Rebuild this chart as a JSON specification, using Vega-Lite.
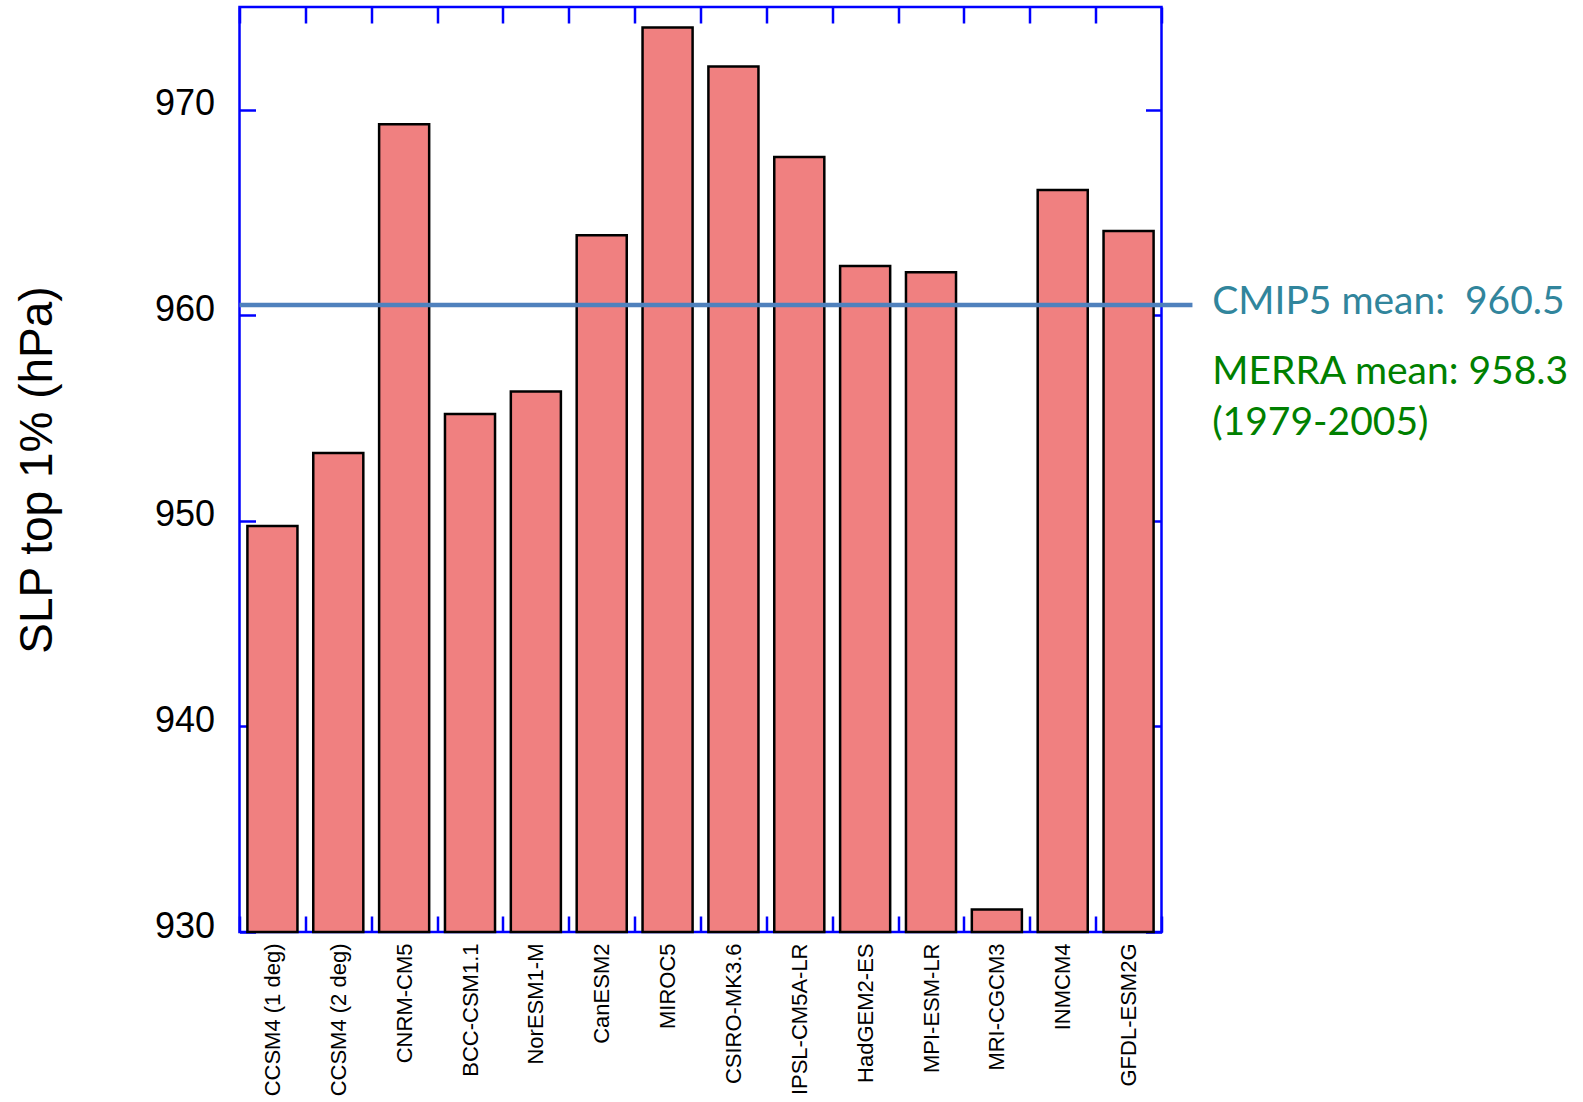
{
  "$schema": "https://vega.github.io/schema/vega-lite/v6.json",
  "autosize": "none",
  "width": 922,
  "height": 925,
  "padding": {"left": 239.5, "top": 7, "right": 421.5, "bottom": 170},
  "background": "white",
  "config": {
    "view": {"stroke": "#0000FF", "strokeWidth": 2.5},
    "font": "Liberation Sans"
  },
  "datasets": {
    "models": [
      {"model": "CCSM4 (1 deg)", "slp": 949.75},
      {"model": "CCSM4 (2 deg)", "slp": 953.3},
      {"model": "CNRM-CM5", "slp": 969.3},
      {"model": "BCC-CSM1.1", "slp": 955.2},
      {"model": "NorESM1-M", "slp": 956.3},
      {"model": "CanESM2", "slp": 963.9},
      {"model": "MIROC5", "slp": 974.0},
      {"model": "CSIRO-MK3.6", "slp": 972.1},
      {"model": "IPSL-CM5A-LR", "slp": 967.7},
      {"model": "HadGEM2-ES", "slp": 962.4},
      {"model": "MPI-ESM-LR", "slp": 962.1},
      {"model": "MRI-CGCM3", "slp": 931.1},
      {"model": "INMCM4", "slp": 966.1},
      {"model": "GFDL-ESM2G", "slp": 964.1}
    ],
    "means": [
      {"source": "CMIP5", "label": "CMIP5 mean: \u00a0960.5", "mean": 960.5},
      {"source": "MERRA", "label": "MERRA mean: 958.3", "mean": 958.3}
    ]
  },
  "resolve": {
    "scale": {"x": "independent", "y": "independent"},
    "axis": {"x": "independent", "y": "independent"}
  },
  "layer": [
    {
      "data": {"name": "models"},
      "mark": {"type": "bar", "fill": "#F08080", "stroke": "black", "strokeWidth": 2.5, "width": {"band": 0.76}},
      "encoding": {
        "x": {
          "field": "model", "type": "nominal", "sort": null,
          "scale": {"paddingInner": 0, "paddingOuter": 0},
          "axis": {
            "orient": "bottom", "title": null, "labelAngle": -90,
            "labelFont": "Liberation Sans", "labelFontSize": 22, "labelColor": "black",
            "tickBand": "extent", "tickSize": -16, "tickColor": "#0000FF", "tickWidth": 2.5,
            "labelPadding": 27, "domain": false, "grid": false
          }
        },
        "y": {
          "field": "slp", "type": "quantitative",
          "scale": {"domain": [930, 975], "zero": false, "nice": false},
          "axis": {
            "orient": "left", "values": [930, 940, 950, 960, 970],
            "labelFont": "Liberation Sans", "labelFontSize": 36, "labelColor": "black",
            "labelOffset": -6,
            "tickSize": -16, "tickColor": "#0000FF", "tickWidth": 2.5,
            "labelPadding": 41, "domain": false, "grid": false,
            "title": "SLP top 1% (hPa)", "titleFont": "Liberation Sans",
            "titleFontSize": 46, "titleFontWeight": "normal", "titleColor": "black",
            "titlePadding": 93
          }
        },
        "y2": {"datum": 930}
      }
    },
    {
      "data": {"name": "models"},
      "mark": {"type": "bar", "opacity": 0},
      "encoding": {
        "x": {
          "field": "model", "type": "nominal", "sort": null,
          "scale": {"paddingInner": 0, "paddingOuter": 0},
          "axis": {
            "orient": "top", "title": null, "labels": false,
            "tickBand": "extent", "tickSize": -16, "tickColor": "#0000FF", "tickWidth": 2.5,
            "domain": false, "grid": false
          }
        },
        "y": {
          "field": "slp", "type": "quantitative",
          "scale": {"domain": [930, 975], "zero": false, "nice": false},
          "axis": {
            "orient": "right", "values": [930, 940, 950, 960, 970], "title": null, "labels": false,
            "tickSize": -16, "tickColor": "#0000FF", "tickWidth": 2.5,
            "domain": false, "grid": false
          }
        },
        "y2": {"datum": 930}
      }
    },
    {
      "data": {"name": "means"},
      "transform": [{"filter": "datum.source === 'CMIP5'"}],
      "mark": {"type": "rule", "color": "#4F81BD", "strokeWidth": 4.5},
      "encoding": {
        "x": {"datum": 0, "type": "quantitative", "scale": {"domain": [0, 14], "nice": false, "zero": false}, "axis": null},
        "x2": {"datum": 14.47},
        "y": {"field": "mean", "type": "quantitative", "scale": {"domain": [930, 975], "zero": false, "nice": false}, "axis": null}
      }
    },
    {
      "data": {"name": "means"},
      "transform": [{"filter": "datum.source === 'CMIP5'"}],
      "mark": {"type": "text", "align": "left", "baseline": "middle", "font": "Lato", "fontSize": 39, "color": "#31859C", "dy": -3},
      "encoding": {
        "x": {"datum": 14.77, "type": "quantitative", "scale": {"domain": [0, 14], "nice": false, "zero": false}, "axis": null},
        "y": {"field": "mean", "type": "quantitative", "scale": {"domain": [930, 975], "zero": false, "nice": false}, "axis": null},
        "text": {"field": "label"}
      }
    },
    {
      "data": {"name": "means"},
      "transform": [{"filter": "datum.source === 'MERRA'"}],
      "mark": {"type": "text", "align": "left", "baseline": "middle", "font": "Lato", "fontSize": 39, "color": "#008000", "dy": 22, "lineHeight": 51},
      "encoding": {
        "x": {"datum": 14.77, "type": "quantitative", "scale": {"domain": [0, 14], "nice": false, "zero": false}, "axis": null},
        "y": {"field": "mean", "type": "quantitative", "scale": {"domain": [930, 975], "zero": false, "nice": false}, "axis": null},
        "text": {"value": ["MERRA mean: 958.3", "(1979-2005)"]}
      }
    }
  ]
}
